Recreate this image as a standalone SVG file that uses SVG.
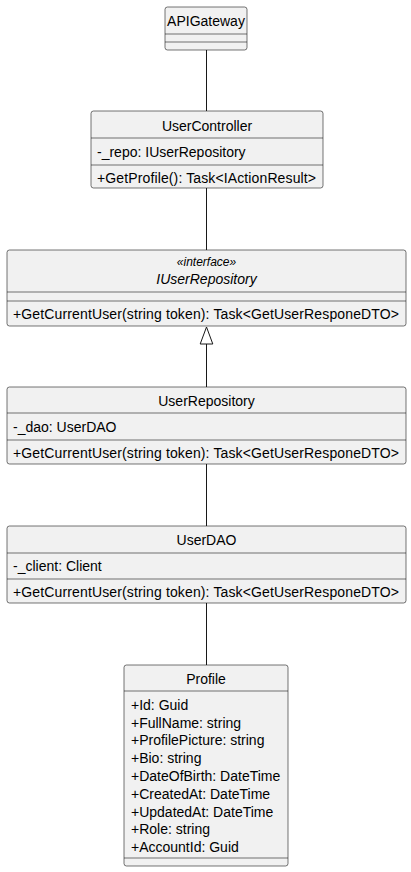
<svg xmlns="http://www.w3.org/2000/svg" width="411" height="872" viewBox="0 0 411 872">
<style>
.box{fill:#F1F1F1;stroke:#181818;stroke-width:0.6}
.sep{stroke:#181818;stroke-width:0.6}
text{font-family:"Liberation Sans",Arial,sans-serif;font-size:14px;fill:#000}
.c{text-anchor:middle}
.it{font-style:italic}
.st{font-style:italic;font-size:12px}
.conn{stroke:#181818;stroke-width:1;fill:none}
</style>
<rect width="411" height="872" fill="#FFFFFF"/>
<g id="connectors">
<line class="conn" x1="206.5" y1="50" x2="206.5" y2="111"/>
<line class="conn" x1="206.5" y1="188" x2="206.5" y2="250"/>
<line class="conn" x1="206.5" y1="344" x2="206.5" y2="387"/>
<polygon points="206.5,327 200.2,344 212.8,344" fill="#FFFFFF" stroke="#181818" stroke-width="1"/>
<line class="conn" x1="206.5" y1="464" x2="206.5" y2="526"/>
<line class="conn" x1="206.5" y1="603" x2="206.5" y2="665"/>
</g>
<g id="APIGateway">
<rect class="box" x="165" y="7" width="82" height="43" rx="2.5"/>
<text class="c" x="206" y="26">APIGateway</text>
<line class="sep" x1="165" y1="34" x2="247" y2="34"/>
<line class="sep" x1="165" y1="42" x2="247" y2="42"/>
</g>
<g id="UserController">
<rect class="box" x="91" y="111" width="232" height="77" rx="2.5"/>
<text class="c" x="207" y="131">UserController</text>
<line class="sep" x1="91" y1="138" x2="323" y2="138"/>
<text x="97" y="157">-_repo: IUserRepository</text>
<line class="sep" x1="91" y1="165" x2="323" y2="165"/>
<text x="97" y="183" textLength="219">+GetProfile(): Task&lt;IActionResult&gt;</text>
</g>
<g id="IUserRepository">
<rect class="box" x="7" y="250" width="399" height="76" rx="2.5"/>
<text class="c st" x="206.5" y="266">«interface»</text>
<text class="c it" x="206.5" y="284">IUserRepository</text>
<line class="sep" x1="7" y1="292" x2="406" y2="292"/>
<line class="sep" x1="7" y1="301" x2="406" y2="301"/>
<text x="13" y="319" textLength="386">+GetCurrentUser(string token): Task&lt;GetUserResponeDTO&gt;</text>
</g>
<g id="UserRepository">
<rect class="box" x="7" y="387" width="399" height="77" rx="2.5"/>
<text class="c" x="206.5" y="406">UserRepository</text>
<line class="sep" x1="7" y1="413" x2="406" y2="413"/>
<text x="13" y="432">-_dao: UserDAO</text>
<line class="sep" x1="7" y1="440" x2="406" y2="440"/>
<text x="13" y="458" textLength="386">+GetCurrentUser(string token): Task&lt;GetUserResponeDTO&gt;</text>
</g>
<g id="UserDAO">
<rect class="box" x="7" y="526" width="399" height="77" rx="2.5"/>
<text class="c" x="206.5" y="545">UserDAO</text>
<line class="sep" x1="7" y1="553" x2="406" y2="553"/>
<text x="13" y="571">-_client: Client</text>
<line class="sep" x1="7" y1="579" x2="406" y2="579"/>
<text x="13" y="597" textLength="386">+GetCurrentUser(string token): Task&lt;GetUserResponeDTO&gt;</text>
</g>
<g id="Profile">
<rect class="box" x="124" y="665" width="164" height="201" rx="2.5"/>
<text class="c" x="206" y="684">Profile</text>
<line class="sep" x1="124" y1="691" x2="288" y2="691"/>
<text x="131" y="710">+Id: Guid</text>
<text x="131" y="728">+FullName: string</text>
<text x="131" y="745">+ProfilePicture: string</text>
<text x="131" y="763">+Bio: string</text>
<text x="131" y="781">+DateOfBirth: DateTime</text>
<text x="131" y="799">+CreatedAt: DateTime</text>
<text x="131" y="817">+UpdatedAt: DateTime</text>
<text x="131" y="834">+Role: string</text>
<text x="131" y="852">+AccountId: Guid</text>
<line class="sep" x1="124" y1="858" x2="288" y2="858"/>
</g>
</svg>
